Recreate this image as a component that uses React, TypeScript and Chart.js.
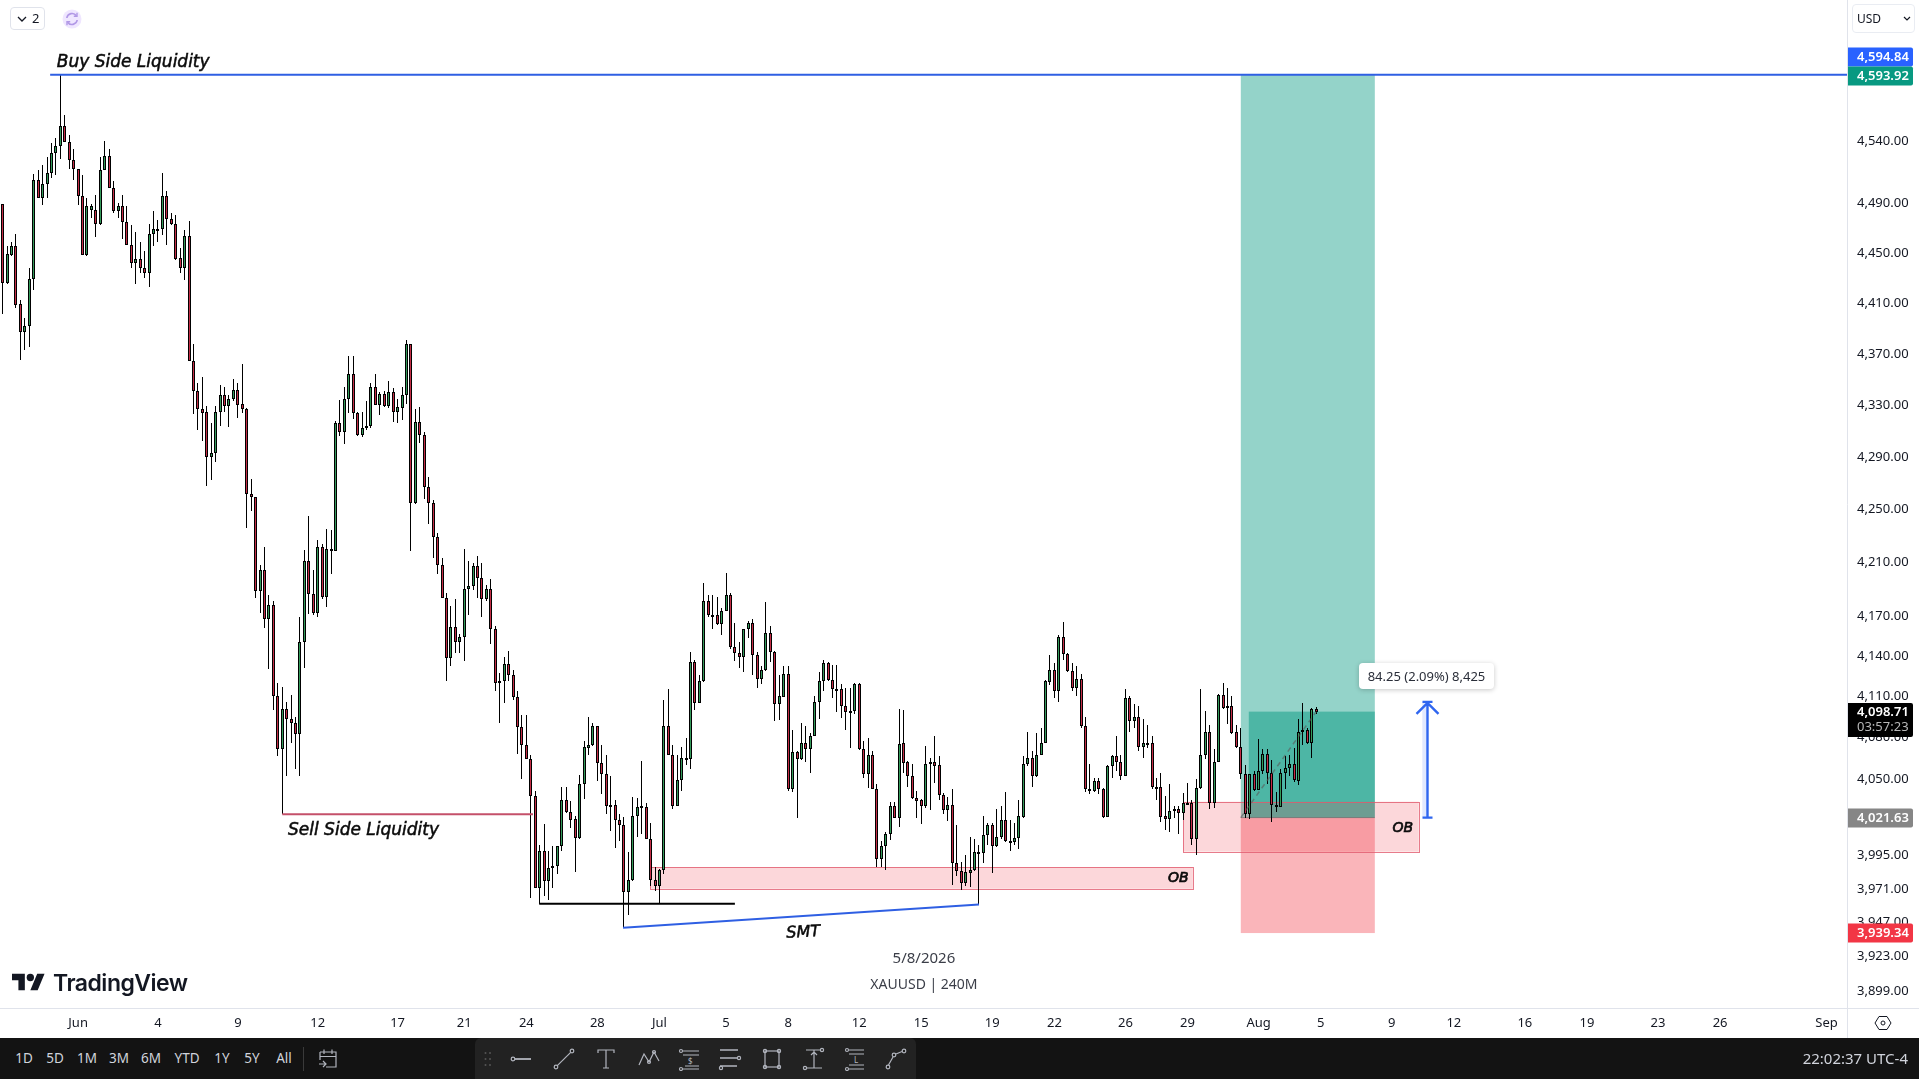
import React, { useEffect, useRef } from "react";
import { Chart, registerables } from "chart.js";

Chart.register(...registerables);

const opens = [
  4489,4426,4448,4455,4409,4387,4392,4429,4508,4494,
  4505,4514,4530,4536,4552,4539,4524,4517,4495,4448,
  4484,4484,4473,4516,4528,4502,4483,4487,4474,4456,
  4442,4445,4438,4434,4465,4468,4469,4495,4477,4473,
  4446,4438,4463,4364,4341,4327,4325,4290,4293,4325,
  4338,4329,4335,4342,4331,4327,4262,4259,4188,4204,
  4167,4178,4110.5,4071,4101,4093,4090.5,4082,4150,4211,
  4186,4172,4221,4184,4218,4218,4316,4309,4335,4354,
  4324,4307,4312,4314,4344,4330,4339,4329,4340,4325,
  4328,4338,4378,4255,4317,4307,4267,4255,4229,4208,
  4183,4138.5,4161,4150,4154,4190,4192,4207,4198,4182,
  4190,4160,4121,4121,4134,4126,4109.5,4087.5,4074.5,4064,
  4037.5,3971,3997.5,3976,3985.5,3987,4001,4034,4025.5,4020.5,
  4007,4046,4072,4074,4088,4061,4053,4031,4031,4020,
  4016,3968.5,3977,4023,4028.5,4029.5,4006.5,3977,3973,3984,
  4088.5,4067,4030,4049,4064,4064,4135,4105,4121.5,4181,
  4170.5,4170.5,4163.5,4173.5,4185,4146.5,4142,4139,4160,4164,
  4140.5,4123,4129.5,4157,4143,4104.5,4109.5,4126.5,4042,4069,
  4064,4076,4071.5,4081,4105.5,4121,4134.5,4122,4115.5,4115.5,
  4103,4098.5,4099,4119,4071,4053,4067,4042.5,3992,4001,
  4009.5,4030,4021,4075.5,4062,4052,4036,4034,4030,4061,
  4062,4059.5,4038,4027,4031,3989,3983.5,3975,3982,3984,
  3996.5,3996.5,4009,4016.5,4001,4008,4020,4004.5,4004,4007,
  4022,4060.5,4065,4051.5,4067,4076,4120.5,4129.5,4114,4153.5,
  4141,4129,4116,4123,4088.5,4042.5,4040.5,4048,4042.5,4022,
  4059,4066.5,4062,4052,4109,4092,4095,4073,4075,4075.5,
  4043.5,4044,4022.5,4020.5,4027,4027.5,4025,4031.5,4032,4006,
  4043,4067,4083.5,4032,4062,4111,4102,4102.5,4083.5,4073,
  4053.5,4024,4053,4041.5,4055.5,4068,4054,4031,4029.5,4054,
  4057.5,4060.5,4048,4083.5,4085,4076,4100.5,
];
const closes = [
  4426,4449,4455,4408,4387,4392,4429,4508,4494,4505,
  4514,4530,4536,4552,4539,4524,4517,4495,4448,4487,
  4487,4473,4516,4528,4502,4483,4487,4474,4456,4442,
  4445,4438,4434,4465,4469,4469,4495,4477,4473,4445,
  4438,4463,4364,4341,4327,4324,4290,4293,4325,4338,
  4329,4335,4342,4330,4327,4262,4259,4188,4204,4167,
  4178,4110.5,4071,4101,4093,4090.5,4082,4150,4211,4186,
  4172,4221,4184,4220,4220,4316,4309,4335,4354,4324,
  4307,4312,4314,4344,4330,4339,4329,4340,4325,4328.5,
  4338,4378,4255,4317,4307,4267,4255,4229,4208,4183,
  4138,4161,4150,4154,4190,4192,4207,4198,4182,4190,
  4160,4120,4120,4134,4126,4109.5,4087.5,4074.5,4064,4037.5,
  3971,3997.5,3976,3985.5,3987,4001,4034,4025.5,4020,4007,
  4046,4072.5,4074,4088,4061,4053,4030,4030,4020,4016,
  3968.5,3977,4023,4029,4030,4006.5,3977,3973,3984,4088.5,
  4067,4030,4049,4065,4065,4135,4105,4121.5,4181,4170,
  4169.5,4163.5,4173.5,4185,4146.5,4142,4139,4160,4164,4140.5,
  4123,4129.5,4157,4142.5,4104.5,4110,4126.5,4042,4069,4064,
  4076,4071.5,4081,4105.5,4121,4134.5,4122,4115.5,4115,4103,
  4098.5,4099.5,4119,4071,4053,4067,4042,3992,4001,4009.5,
  4030,4021,4075,4061.5,4051.5,4036,4033.5,4030,4060.5,4062,
  4059,4038,4027,4031,3989,3983.5,3975,3982.5,3984,3997,
  3997,4009,4016.5,4001,4008,4020,4005,4005,4007,4022.5,
  4060.5,4065,4051.5,4067,4076,4121,4129.5,4114,4153.5,4141,
  4128.5,4116,4123,4088,4042,4040.5,4048,4042,4022,4059,
  4066.5,4062,4052,4109,4092,4095,4073,4075.5,4075.5,4043.5,
  4044,4022,4020.5,4026.5,4027.5,4025,4032,4032,4006,4043,
  4067,4083.5,4032,4062,4111,4101.5,4103,4083,4073,4053.5,
  4024,4053,4041.5,4055.5,4068,4054,4031,4029,4054,4057.5,
  4060.5,4048.5,4083.5,4085,4076,4100.5,4098.71,
];
const highs = [
  4489,4455,4458,4465,4412,4398,4438,4513,4516,4520,
  4527,4538,4542,4594,4561,4545,4533,4517,4512,4494,
  4489,4496,4527,4540,4533,4507,4490,4496,4487,4472,
  4466,4458,4451,4473,4483,4476,4514,4499,4482,4480,
  4454,4468,4475,4378,4347.5,4352,4329,4316,4329,4346,
  4344,4338,4350,4347,4362,4328,4273,4259,4208,4221,
  4185,4181,4119.5,4117,4106,4111,4095,4169,4219,4245,
  4204,4227,4224,4235,4234,4318,4334,4344,4368,4368,
  4325,4325,4333,4347.5,4354,4340.5,4341,4349,4343,4335,
  4344,4381,4378,4327,4328.5,4309,4275,4257,4232,4213,
  4187,4177,4182,4156,4219.5,4211,4209,4214.5,4209.5,4193,
  4197,4162,4127,4139,4143.5,4129.5,4114,4096.5,4096.5,4067,
  4040.5,4002,4017,3998,4001,4001.5,4043.5,4043.5,4033.5,4023,
  4052.5,4077,4095,4090,4088,4074.5,4067,4051.5,4034.5,4024,
  4022,3997,4036.5,4036,4062.5,4032,4017.5,3986,3985,4107,
  4115,4074,4067,4073,4079.5,4142.5,4137,4126,4194,4185.5,
  4185.5,4184,4175.5,4201.5,4186.5,4164,4150.5,4160,4166,4167.5,
  4143,4132,4180,4162,4143.5,4126,4132.5,4132.5,4085.5,4070,
  4090,4088.5,4083,4110,4128,4137,4135,4133,4133,4119,
  4116,4116,4120,4120,4077,4079.5,4070,4046,4005,4011,
  4033,4033,4101,4100,4062.5,4060.5,4041,4035,4073.5,4065,
  4081,4066,4039.5,4036.5,4042.5,4016,3989.5,3995,4008,4006.5,
  4002,4022.5,4017.5,4017.5,4027.5,4030,4040,4020,4017.5,4034.5,
  4066,4083.5,4070,4083,4087,4122,4140.5,4134.5,4155,4165,
  4142,4134.5,4132,4126.5,4094.5,4060.5,4050,4050,4043,4060,
  4067,4081,4067,4115,4110,4104.5,4103,4093,4089,4081,
  4050,4054,4037,4046,4030,4030,4039.5,4046.5,4034.5,4049.5,
  4115,4099.5,4089,4071.5,4112,4120,4116,4110.5,4089,4087,
  4060,4053,4055,4079,4071,4071,4063.5,4040,4057,4066,
  4067,4072,4093,4105,4087,4101.5,4102,
];
const lows = [
  4401,4425,4447,4406,4365,4373,4375,4420,4494,4488,
  4494,4510,4512,4525,4539,4517,4508,4488,4448,4447,
  4478,4462,4472,4516,4502,4482,4478,4461,4456,4438,
  4425,4434,4430,4423,4455,4458,4464,4456,4472,4444,
  4434,4428,4364,4323,4310.5,4302,4268,4272,4286,4314,
  4325,4313,4333,4320,4324,4236,4249,4183,4172,4160.5,
  4130,4100,4066,4024,4051.5,4076,4057,4052,4131,4171,
  4170,4169,4182,4176,4201,4218,4306,4300,4324,4319.5,
  4306,4305,4311,4312.5,4330,4322,4328.5,4328,4317,4316,
  4318.5,4330.5,4218,4254,4300.5,4258,4239,4213,4201,4183,
  4121,4132.5,4142,4142,4136,4170,4189,4183,4169,4181,
  4149,4114,4090.5,4105,4121.5,4107,4068,4049.5,4064,3964,
  3971,3960,3965.5,3963,3971,3981,3998,4025,4014,3983,
  4006.5,4035,4067,4073.5,4048,4039,4024,4012,4000,4005,
  3943,3952,3976,4008,4010,4006.5,3973,3969,3960,3981,
  4067,4028,4030,4041,4060,4057,4100,4105,4120.5,4169,
  4160,4162.5,4155,4173,4145,4136,4131,4128,4153,4126,
  4116,4119,4129,4135,4092,4092.5,4109.5,4040.5,4040,4021,
  4063.5,4062,4054,4081,4093.5,4114,4121.5,4109,4098.5,4094,
  4085.5,4072,4097,4070.5,4050,4043,4042,3986,3986,3984,
  4005.5,4021,4015,4054,4044,4035,4021.5,4017,4028.5,4027,
  4046.5,4034,4024,4019,3973.5,3979.5,3969.5,3972.5,3972,3983.5,
  3959.5,3989,4002,3982,4000.5,4006.5,4004,3997.5,4002,3999,
  4021.5,4059,4043.5,4051,4067,4076,4118,4109,4106,4137,
  4128,4114,4110,4087,4040,4039,4040,4039,4021.5,4022,
  4050,4055,4048.5,4051.5,4084,4087,4070,4065,4072,4042.5,
  4034,4018.5,4013,4011,4021,4009.5,4020,4031,4002,3995,
  4042,4064,4028,4028.5,4062,4101,4089.5,4082,4072,4049.5,
  4021,4020.5,4041,4041.5,4053,4046,4018.5,4026,4029,4042,
  4052,4047.5,4045,4074,4075,4065,4097,
];

const priceTicks = [4540,4490,4450,4410,4370,4330,4290,4250,4210,4170,4140,4110,4080,4050,3995,3971,3947,3923,3899];
const timeTickBars = [17,35,53,71,89,104,118,134,148,163,177,193,207,223,237,253,267,283,297,313,327,343,357,373,387,411];
const timeTickLabels = ["Jun","4","9","12","17","21","24","28","Jul","5","8","12","15","19","22","26","29","Aug","5","9","12","16","19","23","26","Sep"];

// drawings, in bar index and price
const targetPrice = 4593.92;
const entryPrice = 4021.63;
const stopPrice = 3939.34;
const lastPrice = 4098.71;
const crosshairPrice = 4594.84;
const riskBox = [279, 309.2];
const progressStart = 280.8;
const obLower = [145.9, 268.2, 3986.2, 3970.7];
const obUpper = [266, 319.1, 4033.1, 3997.2];
const buySideLine = [[10.7, targetPrice], [416, targetPrice]];
const sellSideLine = [[63, 4024], [119.5, 4024]];
const equalLowsLine = [[120.9, 3960], [165, 3960]];
const smtLine = [[139.8, 3943], [220, 3959.5]];
const progressLine = [[279, entryPrice], [296, lastPrice]];
const measureBar = 321;
const measureTop = 4105.88;

const GREEN = "#339a5a";
const RED = "#c42c46";
const BLUE = "#2f5fe3";
const F = '"Noto Sans", sans-serif';

const pts = (a: number[][]) => a.map(([x, y]) => ({ x, y }));
const money = (v: number) => v.toLocaleString("en-US", { minimumFractionDigits: 2, maximumFractionDigits: 2 });

const drawingPlugin: any = {
  id: "drawings",
  afterDatasetsUpdate(chart: any) {
    chart.getSortedVisibleDatasetMetas().forEach((meta: any) => {
      if (meta.type !== "bar") return;
      const isBody = meta.index === 1;
      meta.data.forEach((el: any) => {
        el.x = Math.floor(el.x) + 0.5;
        const a = Math.round(el.y);
        let b = Math.round(el.base);
        if (isBody && b - a < 2) b = a + 2;
        el.y = a;
        el.base = b;
        el.height = b - a;
      });
    });
  },
  beforeDatasetsDraw(chart: any) {
    const { ctx, scales } = chart;
    const X = (v: number) => scales.x.getPixelForValue(v);
    const Y = (v: number) => scales.y.getPixelForValue(v);
    const box = (x0: number, x1: number, p0: number, p1: number, fill: string, stroke?: string) => {
      const l = X(x0), r = X(x1), t = Y(p0), b = Y(p1);
      ctx.fillStyle = fill;
      ctx.fillRect(l, t, r - l, b - t);
      if (stroke) {
        ctx.strokeStyle = stroke;
        ctx.lineWidth = 1;
        ctx.strokeRect(Math.round(l) + 0.5, Math.round(t) + 0.5, Math.round(r - l), Math.round(b - t));
      }
    };
    ctx.save();
    box(riskBox[0], riskBox[1], targetPrice, entryPrice, "rgba(8,153,129,0.43)");
    box(riskBox[0], riskBox[1], entryPrice, stopPrice, "rgba(242,54,69,0.37)");
    box(progressStart, riskBox[1], lastPrice, entryPrice, "rgba(8,153,129,0.5)");
    box(obLower[0], obLower[1], obLower[2], obLower[3], "rgba(242,54,69,0.2)", "rgba(225,90,110,0.8)");
    box(obUpper[0], obUpper[1], obUpper[2], obUpper[3], "rgba(242,54,69,0.2)", "rgba(225,90,110,0.8)");
    box(measureBar - 1.1, measureBar, measureTop, entryPrice, "rgba(41,98,255,0.14)");
    ctx.strokeStyle = "rgba(90,90,90,0.55)";
    ctx.lineWidth = 1;
    ctx.beginPath();
    ctx.moveTo(X(riskBox[0]), Y(entryPrice));
    ctx.lineTo(X(riskBox[1]), Y(entryPrice));
    ctx.stroke();
    ctx.restore();
  },
  afterDraw(chart: any) {
    const { ctx, scales, chartArea } = chart;
    const X = (v: number) => scales.x.getPixelForValue(v);
    const Y = (v: number) => scales.y.getPixelForValue(v);
    ctx.save();

    // measure arrow
    const ax = Math.round(X(measureBar)) + 0.5;
    const top = Y(measureTop), bot = Y(entryPrice);
    ctx.strokeStyle = "#2f66f0";
    ctx.lineWidth = 2.4;
    ctx.beginPath();
    ctx.moveTo(ax, top); ctx.lineTo(ax, bot);
    ctx.moveTo(ax - 5, bot); ctx.lineTo(ax + 5, bot);
    ctx.moveTo(ax - 11, top + 12); ctx.lineTo(ax, top + 1); ctx.lineTo(ax + 11, top + 12);
    ctx.moveTo(ax - 5, top); ctx.lineTo(ax + 5, top);
    ctx.stroke();

    // drawing labels
    const label = (t: string, i: number, p: number, align: CanvasTextAlign, font: string, color: string, rot = 0, weight = 0) => {
      ctx.save();
      ctx.translate(X(i), Y(p));
      ctx.rotate(rot);
      ctx.font = font;
      ctx.fillStyle = color;
      ctx.textAlign = align;
      ctx.textBaseline = "middle";
      ctx.fillText(t, 0, 0);
      if (weight) {
        ctx.strokeStyle = color;
        ctx.lineWidth = weight;
        ctx.strokeText(t, 0, 0);
      }
      ctx.restore();
    };
    const note = 'italic 17px "DejaVu Sans", sans-serif';
    label("Buy Side Liquidity", 12.2, 4604.4, "left", note, "#0b0b0b", 0, 0.5);
    label("Sell Side Liquidity", 64.3, 4012.4, "left", note, "#0b0b0b", 0, 0.5);
    label("SMT", 180.4, 3939.6, "center", 'italic 16px "DejaVu Sans", sans-serif', "#0b0b0b", -0.05, 0.5);
    const ob = 'italic 14px "DejaVu Sans", sans-serif';
    label("OB", 264.9, 3978, "center", ob, "#0b0b0b", 0, 0.7);
    label("OB", 315.5, 4014, "center", ob, "#0b0b0b", 0, 0.7);
    label("5/8/2026", 207.6, 3921.6, "center", `15px ${F}`, "#3b3e48");
    label("XAUUSD | 240M", 207.6, 3903, "center", `14px ${F}`, "#3b3e48");

    // axis joins
    ctx.strokeStyle = "#e0e3eb";
    ctx.lineWidth = 1;
    ctx.beginPath();
    ctx.moveTo(chartArea.right, chartArea.bottom + 0.5); ctx.lineTo(1919, chartArea.bottom + 0.5);
    ctx.moveTo(chartArea.right + 0.5, chartArea.bottom); ctx.lineTo(chartArea.right + 0.5, 1038);
    ctx.stroke();

    // price tags
    const tag = (v: number, bg: string, h = 19, second?: string, offset = 0) => {
      const c = Math.round(Y(v)) + offset;
      const t = second ? c - 9 : c - h / 2;
      ctx.fillStyle = bg;
      ctx.beginPath();
      ctx.roundRect(chartArea.right + 1, t, 65, second ? 34 : h, [0, 2, 2, 0]);
      ctx.fill();
      ctx.font = `600 13px ${F}`;
      ctx.fillStyle = "#fff";
      ctx.textAlign = "left";
      ctx.textBaseline = "middle";
      ctx.fillText(money(v), chartArea.right + 10, c);
      if (second) {
        ctx.font = `13px ${F}`;
        ctx.fillStyle = "#b8b8b8";
        ctx.fillText(second, chartArea.right + 10, c + 15);
      }
    };
    tag(crosshairPrice, "#2962ff", 19, undefined, -17);
    tag(targetPrice, "#089981", 19, undefined, 1);
    tag(lastPrice, "#000000", 19, "03:57:23", 0);
    tag(entryPrice, "#868686");
    tag(stopPrice, "#f23645");
    ctx.restore();
  },
};

const Icon = ({ x, children }: { x: number; children: React.ReactNode }) => (
  <svg
    width={24}
    height={24}
    viewBox="0 0 24 24"
    fill="none"
    stroke="#b2b5be"
    strokeWidth={1.2}
    style={{ position: "absolute", left: x - 12, top: 9 }}
  >
    {children}
  </svg>
);

const ranges = [["1D", 24], ["5D", 55], ["1M", 87], ["3M", 119], ["6M", 151], ["YTD", 187], ["1Y", 222], ["5Y", 252], ["All", 284]] as const;

export default function App() {
  const ref = useRef<HTMLCanvasElement | null>(null);
  useEffect(() => {
    document.body.style.margin = "0";
    const tickMap = new Map(timeTickBars.map((b, i) => [b, timeTickLabels[i]]));
    const bars = opens.map((_, i) => i);
    const chart = new Chart(ref.current as HTMLCanvasElement, {
      type: "bar",
      plugins: [drawingPlugin],
      data: {
        datasets: [
          {
            type: "bar",
            order: 3,
            grouped: false,
            data: bars.map((i) => ({ x: i, y: [lows[i], highs[i]] })),
            backgroundColor: "#000000",
            barThickness: 1,
            borderWidth: 0,
            inflateAmount: 0,
          },
          {
            type: "bar",
            order: 2,
            grouped: false,
            data: bars.map((i) => ({ x: i, y: [Math.min(opens[i], closes[i]), Math.max(opens[i], closes[i])] })),
            backgroundColor: bars.map((i) => (closes[i] >= opens[i] ? GREEN : RED)),
            borderColor: "#000000",
            borderWidth: 1,
            borderSkipped: false,
            barThickness: 3,
            inflateAmount: 0,
          },
          { type: "line", order: 1, data: pts(buySideLine), borderColor: BLUE, borderWidth: 2, pointRadius: 0 },
          { type: "line", order: 1, data: pts(sellSideLine), borderColor: "#c4506a", borderWidth: 2, pointRadius: 0 },
          { type: "line", order: 1, data: pts(equalLowsLine), borderColor: "#000000", borderWidth: 2, pointRadius: 0 },
          { type: "line", order: 1, data: pts(smtLine), borderColor: BLUE, borderWidth: 2, pointRadius: 0 },
          { type: "line", order: 1, data: pts(progressLine), borderColor: "rgba(90,90,90,0.6)", borderWidth: 1.5, borderDash: [5, 4], pointRadius: 0 },
        ],
      } as any,
      options: {
        animation: false,
        responsive: false,
        events: [],
        layout: { padding: 0 },
        plugins: { legend: { display: false }, tooltip: { enabled: false } },
        scales: {
          x: {
            type: "linear",
            offset: false,
            min: -0.6,
            max: 415.6,
            bounds: "data",
            grid: { display: false, drawTicks: false, offset: false },
            border: { display: true, color: "#e0e3eb" },
            afterBuildTicks: (s: any) => {
              s.ticks = timeTickBars.map((value) => ({ value }));
            },
            afterFit: (s: any) => {
              s.height = 30;
              s.paddingLeft = 0;
              s.paddingRight = 0;
            },
            ticks: {
              autoSkip: false,
              maxRotation: 0,
              padding: 7,
              color: "#131722",
              font: { family: "Noto Sans", size: 13 },
              callback: (v: any) => tickMap.get(v) ?? "",
            },
          },
          y: {
            type: "logarithmic",
            position: "right",
            min: 3886.8,
            max: 4655.9,
            bounds: "data",
            grid: { display: false, drawTicks: false },
            border: { display: true, color: "#e0e3eb" },
            afterBuildTicks: (s: any) => {
              s.ticks = priceTicks.map((value) => ({ value }));
            },
            afterFit: (s: any) => {
              s.width = 72;
              s.paddingTop = 0;
              s.paddingBottom = 0;
            },
            ticks: {
              autoSkip: false,
              padding: 10,
              labelOffset: 0.5,
              color: "#131722",
              major: { enabled: false },
              font: { family: "Noto Sans", size: 13 },
              callback: (v: any) => money(Number(v)),
            },
          },
        },
      } as any,
    });
    return () => chart.destroy();
  }, []);

  return (
    <div style={{ position: "fixed", left: 0, top: 0, width: 1919, height: 1079, background: "#fff", overflow: "hidden", fontFamily: F }}>
      <canvas ref={ref} width={1919} height={1038} style={{ display: "block", position: "absolute", left: 0, top: 0 }} />

      {/* top-left controls */}
      <div style={{ position: "absolute", left: 10, top: 7, width: 33, height: 21, border: "1px solid #e0e3eb", borderRadius: 4, fontSize: 13, color: "#131722", lineHeight: "21px" }}>
        <svg width={12} height={8} viewBox="0 0 12 8" style={{ position: "absolute", left: 5, top: 7 }} fill="none" stroke="#131722" strokeWidth={1.3}>
          <path d="M2 2l4 4 4-4" />
        </svg>
        <span style={{ position: "absolute", left: 21 }}>2</span>
      </div>
      <svg width={20} height={20} viewBox="0 0 20 20" style={{ position: "absolute", left: 62, top: 9 }} fill="none">
        <circle cx={10} cy={10} r={9.5} fill="#efe6ff" />
        <path d="M4.8 9a5.3 5.3 0 0 1 9.6-2.2M15.2 11a5.3 5.3 0 0 1-9.6 2.2" stroke="#b198e6" strokeWidth={1.6} />
        <path d="M15 3.8v3.4h-3.2M5 16.2v-3.4h3.2" stroke="#b198e6" strokeWidth={1.4} />
      </svg>

      {/* currency */}
      <div style={{ position: "absolute", left: 1852, top: 4, width: 61, height: 27, border: "1px solid #e9ecf2", borderRadius: 4, fontSize: 12, color: "#131722", lineHeight: "27px" }}>
        <span style={{ position: "absolute", left: 4 }}>USD</span>
        <svg width={10} height={6} viewBox="0 0 10 6" style={{ position: "absolute", left: 49, top: 11 }} fill="none" stroke="#131722" strokeWidth={1.2}>
          <path d="M2 1l3 3 3-3" />
        </svg>
      </div>

      {/* measure tooltip */}
      <div style={{ position: "absolute", left: 1359, top: 663, width: 135, height: 26, background: "#fff", borderRadius: 4, boxShadow: "0 1px 5px rgba(0,0,0,0.22)", fontSize: 13, lineHeight: "26px", textAlign: "center", color: "#2a2e39", whiteSpace: "nowrap" }}>
        84.25 (2.09%) 8,425
      </div>

      {/* logo */}
      <svg width={36} height={28} viewBox="0 0 36 28" style={{ position: "absolute", left: 12, top: 970, width: 33, height: 26 }} fill="#131722">
        <path d="M14 22H7V11H0V4h14v18zM28 22h-8l7.5-18h8L28 22z" />
        <circle cx={20} cy={8} r={4} />
      </svg>
      <div style={{ position: "absolute", left: 53, top: 968, fontFamily: "Inter, sans-serif", fontWeight: 600, fontSize: 23, letterSpacing: -0.5, color: "#131722", lineHeight: "30px" }}>TradingView</div>

      {/* settings */}
      <svg width={18} height={18} viewBox="0 0 18 18" style={{ position: "absolute", left: 1874, top: 1014 }} fill="none" stroke="#131722" strokeWidth={1}>
        <path d="M1 9l4-6.5h8L17 9l-4 6.5H5z" />
        <circle cx={9} cy={9} r={2} />
      </svg>

      {/* bottom bar */}
      <div style={{ position: "absolute", left: 0, top: 1038, width: 1919, height: 41, background: "#131313" }}>
        {ranges.map(([t, x]) => (
          <span key={t} style={{ position: "absolute", left: x, top: 0, transform: "translateX(-50%)", color: "#d1d4dc", fontSize: 13.5, lineHeight: "41px" }}>{t}</span>
        ))}
        <div style={{ position: "absolute", left: 303, top: 9, width: 1, height: 24, background: "#3a3a3a" }} />
        <Icon x={328}>
          <path d="M4 5h16v15H10M8 2.5V7M16 2.5V7M4 5v8M4 9.5h16M3 17h7M7 14l3 3-3 3" />
        </Icon>
        <div style={{ position: "absolute", left: 475, top: 0, width: 441, height: 41, background: "#222222", borderRadius: "6px 6px 0 0" }} />
        <svg width={8} height={16} viewBox="0 0 8 16" style={{ position: "absolute", left: 484, top: 13 }} fill="#555">
          <circle cx={1.5} cy={2} r={1} /><circle cx={6} cy={2} r={1} /><circle cx={1.5} cy={8} r={1} /><circle cx={6} cy={8} r={1} /><circle cx={1.5} cy={14} r={1} /><circle cx={6} cy={14} r={1} />
        </svg>
        <Icon x={521}><circle cx={4} cy={12} r={1.8} /><path d="M6 12h16" strokeWidth={1.8} /></Icon>
        <Icon x={564}><circle cx={4} cy={20} r={1.8} /><circle cx={20} cy={4} r={1.8} /><path d="M5.3 18.7L18.7 5.3" /></Icon>
        <Icon x={606}><path d="M4 6V3h16v3M12 3v18M9 21h6" /></Icon>
        <Icon x={649}><path d="M2 18L7 7l5 8 5-10 5 9" /><circle cx={12} cy={15} r={1.5} /><circle cx={17} cy={5} r={1.5} /></Icon>
        <Icon x={689}><circle cx={4} cy={4} r={1.5} /><path d="M6 4h16M6 8h16M8 19h14M6 22h16" /><circle cx={4} cy={22} r={1.5} /><text x={11} y={17} fontSize={8} fill="#b2b5be" stroke="none">$</text></Icon>
        <Icon x={730}><path d="M2 3h18M2 11h17M2 19h17" strokeWidth={1.6} /><circle cx={21} cy={11} r={1.6} /><circle cx={3} cy={21} r={1.6} /></Icon>
        <Icon x={772}><rect x={5} y={4} width={14} height={16} /><circle cx={5} cy={4} r={1.6} /><circle cx={19} cy={4} r={1.6} /><circle cx={5} cy={20} r={1.6} /><circle cx={19} cy={20} r={1.6} /></Icon>
        <Icon x={814}><path d="M4 3h14M12 3v18M4 21h16M9 8l3-3 3 3" /><circle cx={20} cy={3} r={1.6} /><circle cx={3} cy={21} r={1.6} /></Icon>
        <Icon x={856}><circle cx={3} cy={3} r={1.5} /><path d="M5 3h15M5 7h15M5 18h15M5 22h15" /><circle cx={3} cy={22} r={1.5} /><text x={10} y={16} fontSize={8} fill="#b2b5be" stroke="none">L</text></Icon>
        <Icon x={896}><circle cx={4} cy={20} r={1.8} /><circle cx={20} cy={4} r={1.8} /><circle cx={10} cy={8} r={1.8} /><path d="M4.5 18L9 10M12 7l6-2.5" /></Icon>
        <span style={{ position: "absolute", right: 11, top: 0, color: "#d1d4dc", fontSize: 15, lineHeight: "41px" }}>22:02:37 UTC-4</span>
      </div>
    </div>
  );
}
